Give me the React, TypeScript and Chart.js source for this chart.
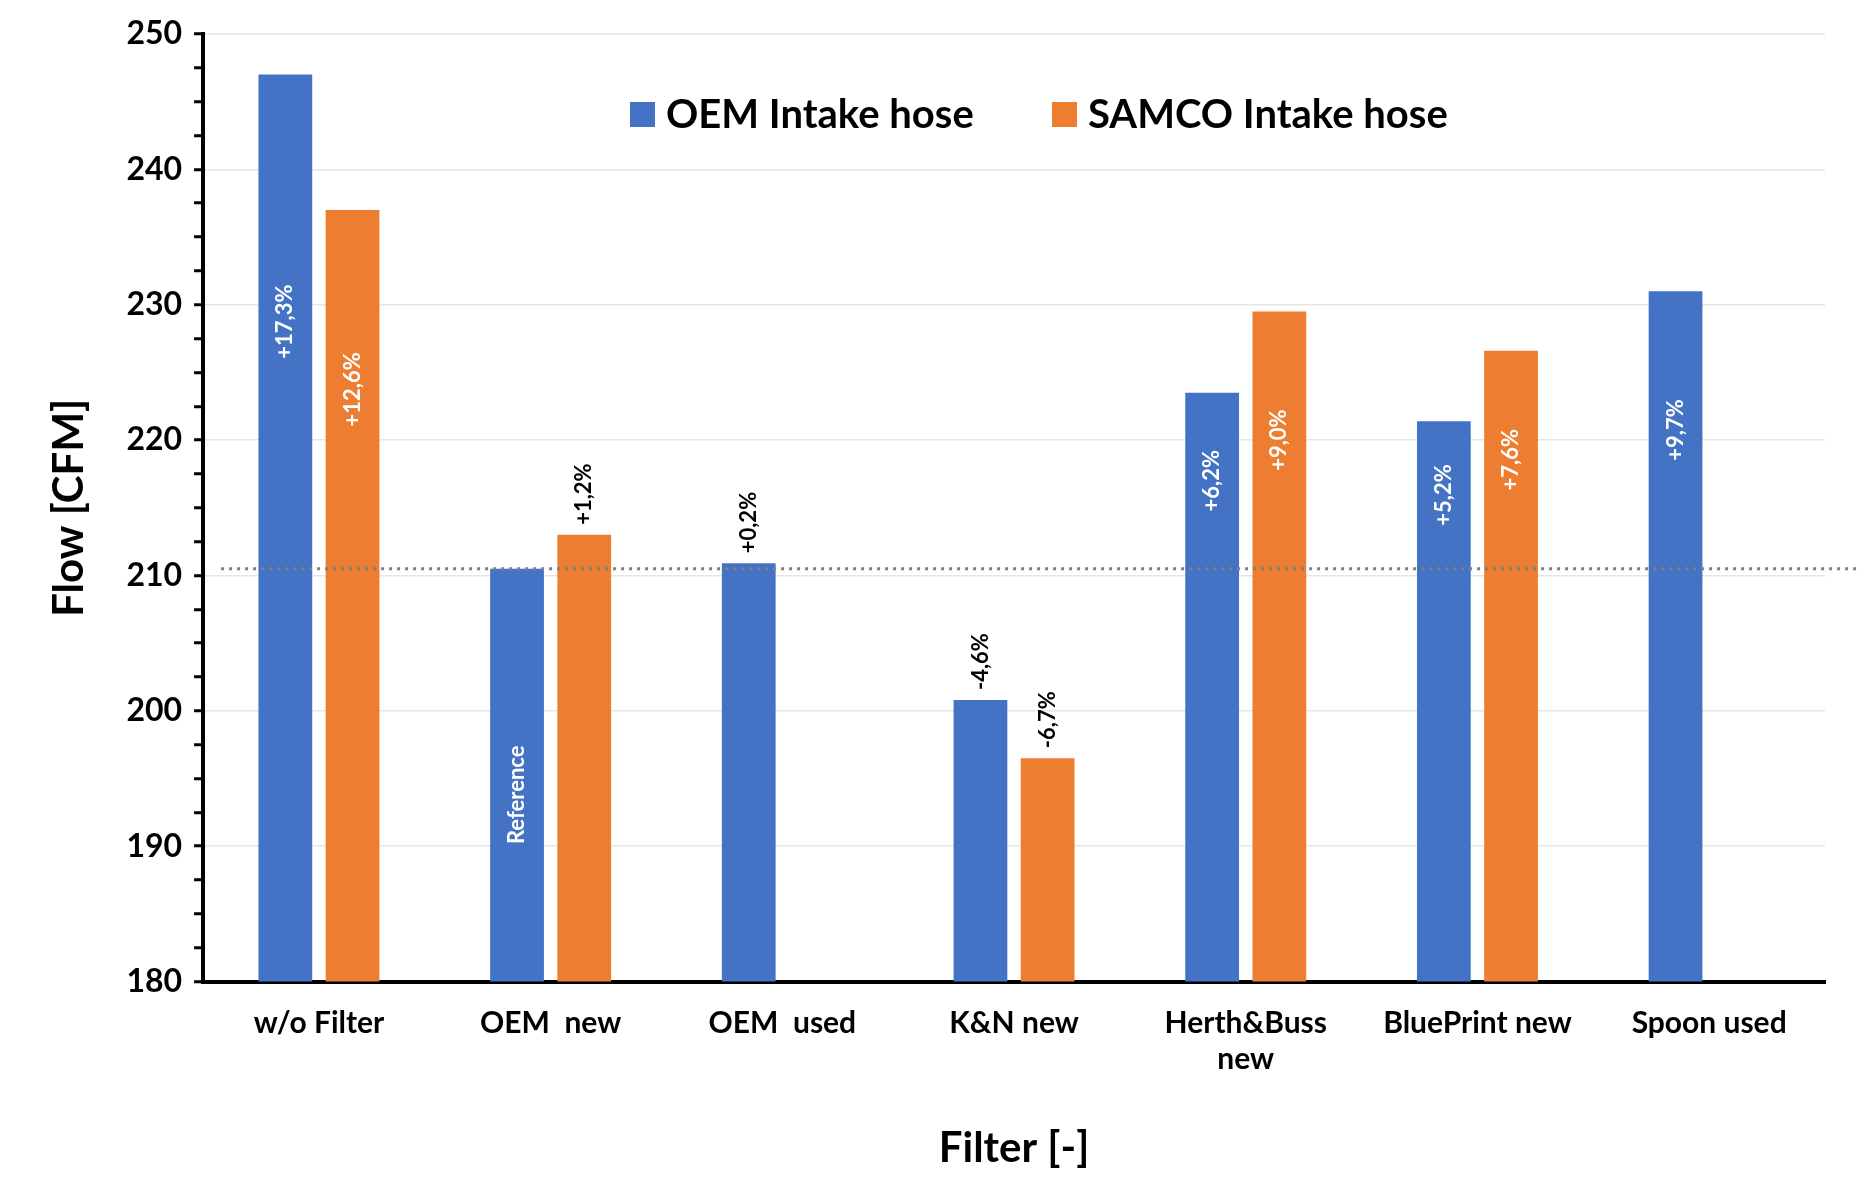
import React, { useEffect, useRef } from "react";
import { Chart, registerables } from "chart.js";
Chart.register(...registerables);

const categories: (string | string[])[] = ["w/o Filter", "OEM  new", "OEM  used", "K&N new", ["Herth&Buss", "new"], "BluePrint new", "Spoon used"];
const oemValues = [247, 210.5, 210.9, 200.8, 223.5, 221.4, 231];
const samcoValues: (number | null)[] = [237, 213, null, 196.5, 229.5, 226.6, null];
const oemLabels = ["+17,3%", "Reference", "+0,2%", "-4,6%", "+6,2%", "+5,2%", "+9,7%"];
const samcoLabels = ["+12,6%", "+1,2%", "", "-6,7%", "+9,0%", "+7,6%", ""];
// true = label inside bar (white), false = above bar (black)
const oemInside = [true, true, false, false, true, true, true];
const samcoInside = [true, false, false, false, true, true, false];
const referenceValue = 210.5;
const FONT = "Lato, 'Open Sans', sans-serif";

export default function App() {
  const ref = useRef<HTMLCanvasElement>(null);
  useEffect(() => {
    document.body.style.margin = "0";
    const labelPlugin = {
      id: "labels",
      afterDatasetsDraw(chart: any) {
        const ctx = chart.ctx;
        const y = chart.scales.y;
        ctx.save();
        ctx.strokeStyle = "#808080";
        ctx.lineWidth = 3;
        ctx.setLineDash([3, 5]);
        const ry = y.getPixelForValue(referenceValue);
        ctx.beginPath();
        ctx.moveTo(chart.chartArea.left + 18, ry);
        ctx.lineTo(chart.width, ry);
        ctx.stroke();
        ctx.restore();
        const sets = [
          { labels: oemLabels, inside: oemInside, values: oemValues },
          { labels: samcoLabels, inside: samcoInside, values: samcoValues },
        ];
        sets.forEach((s, di) => {
          const meta = chart.getDatasetMeta(di);
          meta.data.forEach((bar: any, i: number) => {
            const txt = s.labels[i];
            const v = s.values[i];
            if (!txt || v == null) return;
            ctx.save();
            ctx.font = `bold 22px ${FONT}`;
            ctx.textBaseline = "middle";
            if (s.inside[i]) {
              ctx.fillStyle = "#fff";
              ctx.textAlign = "center";
              const mid = txt === "Reference" ? 193.8 : (v + referenceValue) / 2;
              ctx.translate(bar.x, y.getPixelForValue(mid));
              ctx.rotate(-Math.PI / 2);
              ctx.fillText(txt, 0, 0);
            } else {
              ctx.fillStyle = "#000";
              ctx.textAlign = "left";
              ctx.translate(bar.x, bar.y);
              ctx.rotate(-Math.PI / 2);
              ctx.fillText(txt, 10, 0);
            }
            ctx.restore();
          });
        });
        ctx.save();
        ctx.font = `bold 40px ${FONT}`;
        ctx.textBaseline = "middle";
        ctx.textAlign = "left";
        const items = [
          { t: "OEM Intake hose", c: "#4472C4", x: 630 },
          { t: "SAMCO Intake hose", c: "#ED7D31", x: 1052 },
        ];
        items.forEach((it) => {
          ctx.fillStyle = it.c;
          ctx.fillRect(it.x, 102, 25, 25);
          ctx.fillStyle = "#000";
          ctx.fillText(it.t, it.x + 36, 115);
        });
        ctx.restore();
      },
    };
    const chart = new Chart(ref.current!, {
      type: "bar",
      data: {
        labels: categories,
        datasets: [
          { label: "OEM Intake hose", data: oemValues, backgroundColor: "#4472C4", categoryPercentage: 0.58, barPercentage: 0.8 },
          { label: "SAMCO Intake hose", data: samcoValues, backgroundColor: "#ED7D31", categoryPercentage: 0.58, barPercentage: 0.8 },
        ],
      },
      options: {
        animation: false,
        responsive: false,
        layout: { padding: { top: 34, right: 32, left: 40, bottom: 22 } },
        plugins: { legend: { display: false }, tooltip: { enabled: false } },
        scales: {
          x: {
            grid: { display: false },
            border: { display: true, color: "#000", width: 4 },
            ticks: { color: "#000", font: { size: 30, weight: "bold", family: FONT }, padding: 16, maxRotation: 0, autoSkip: false },
            title: { display: true, text: "Filter [-]", color: "#000", font: { size: 42, weight: "bold", family: FONT }, padding: { top: 30 } },
          },
          y: {
            min: 180,
            max: 250,
            border: { display: true, color: "#000", width: 4 },
            grid: {
              color: (c: any) => (c.tick && c.tick.value % 10 === 0 && c.tick.value !== 180 ? "#e6e6e6" : "rgba(0,0,0,0)"),
              tickColor: "#000",
              tickLength: 9,
              tickWidth: 3,
              lineWidth: 1.5,
            },
            ticks: {
              stepSize: 2.5,
              autoSkip: false,
              color: "#000",
              font: { size: 32, weight: "bold", family: FONT },
              padding: 12,
              callback: (v: any) => (Number(v) % 10 === 0 ? String(v) : ""),
            },
            title: { display: true, text: "Flow [CFM]", color: "#000", font: { size: 42, weight: "bold", family: FONT }, padding: { bottom: 20 } },
          },
        },
      },
      plugins: [labelPlugin],
    } as any);
    return () => chart.destroy();
  }, []);
  return <canvas ref={ref} width={1857} height={1200} style={{ display: "block" }} />;
}
